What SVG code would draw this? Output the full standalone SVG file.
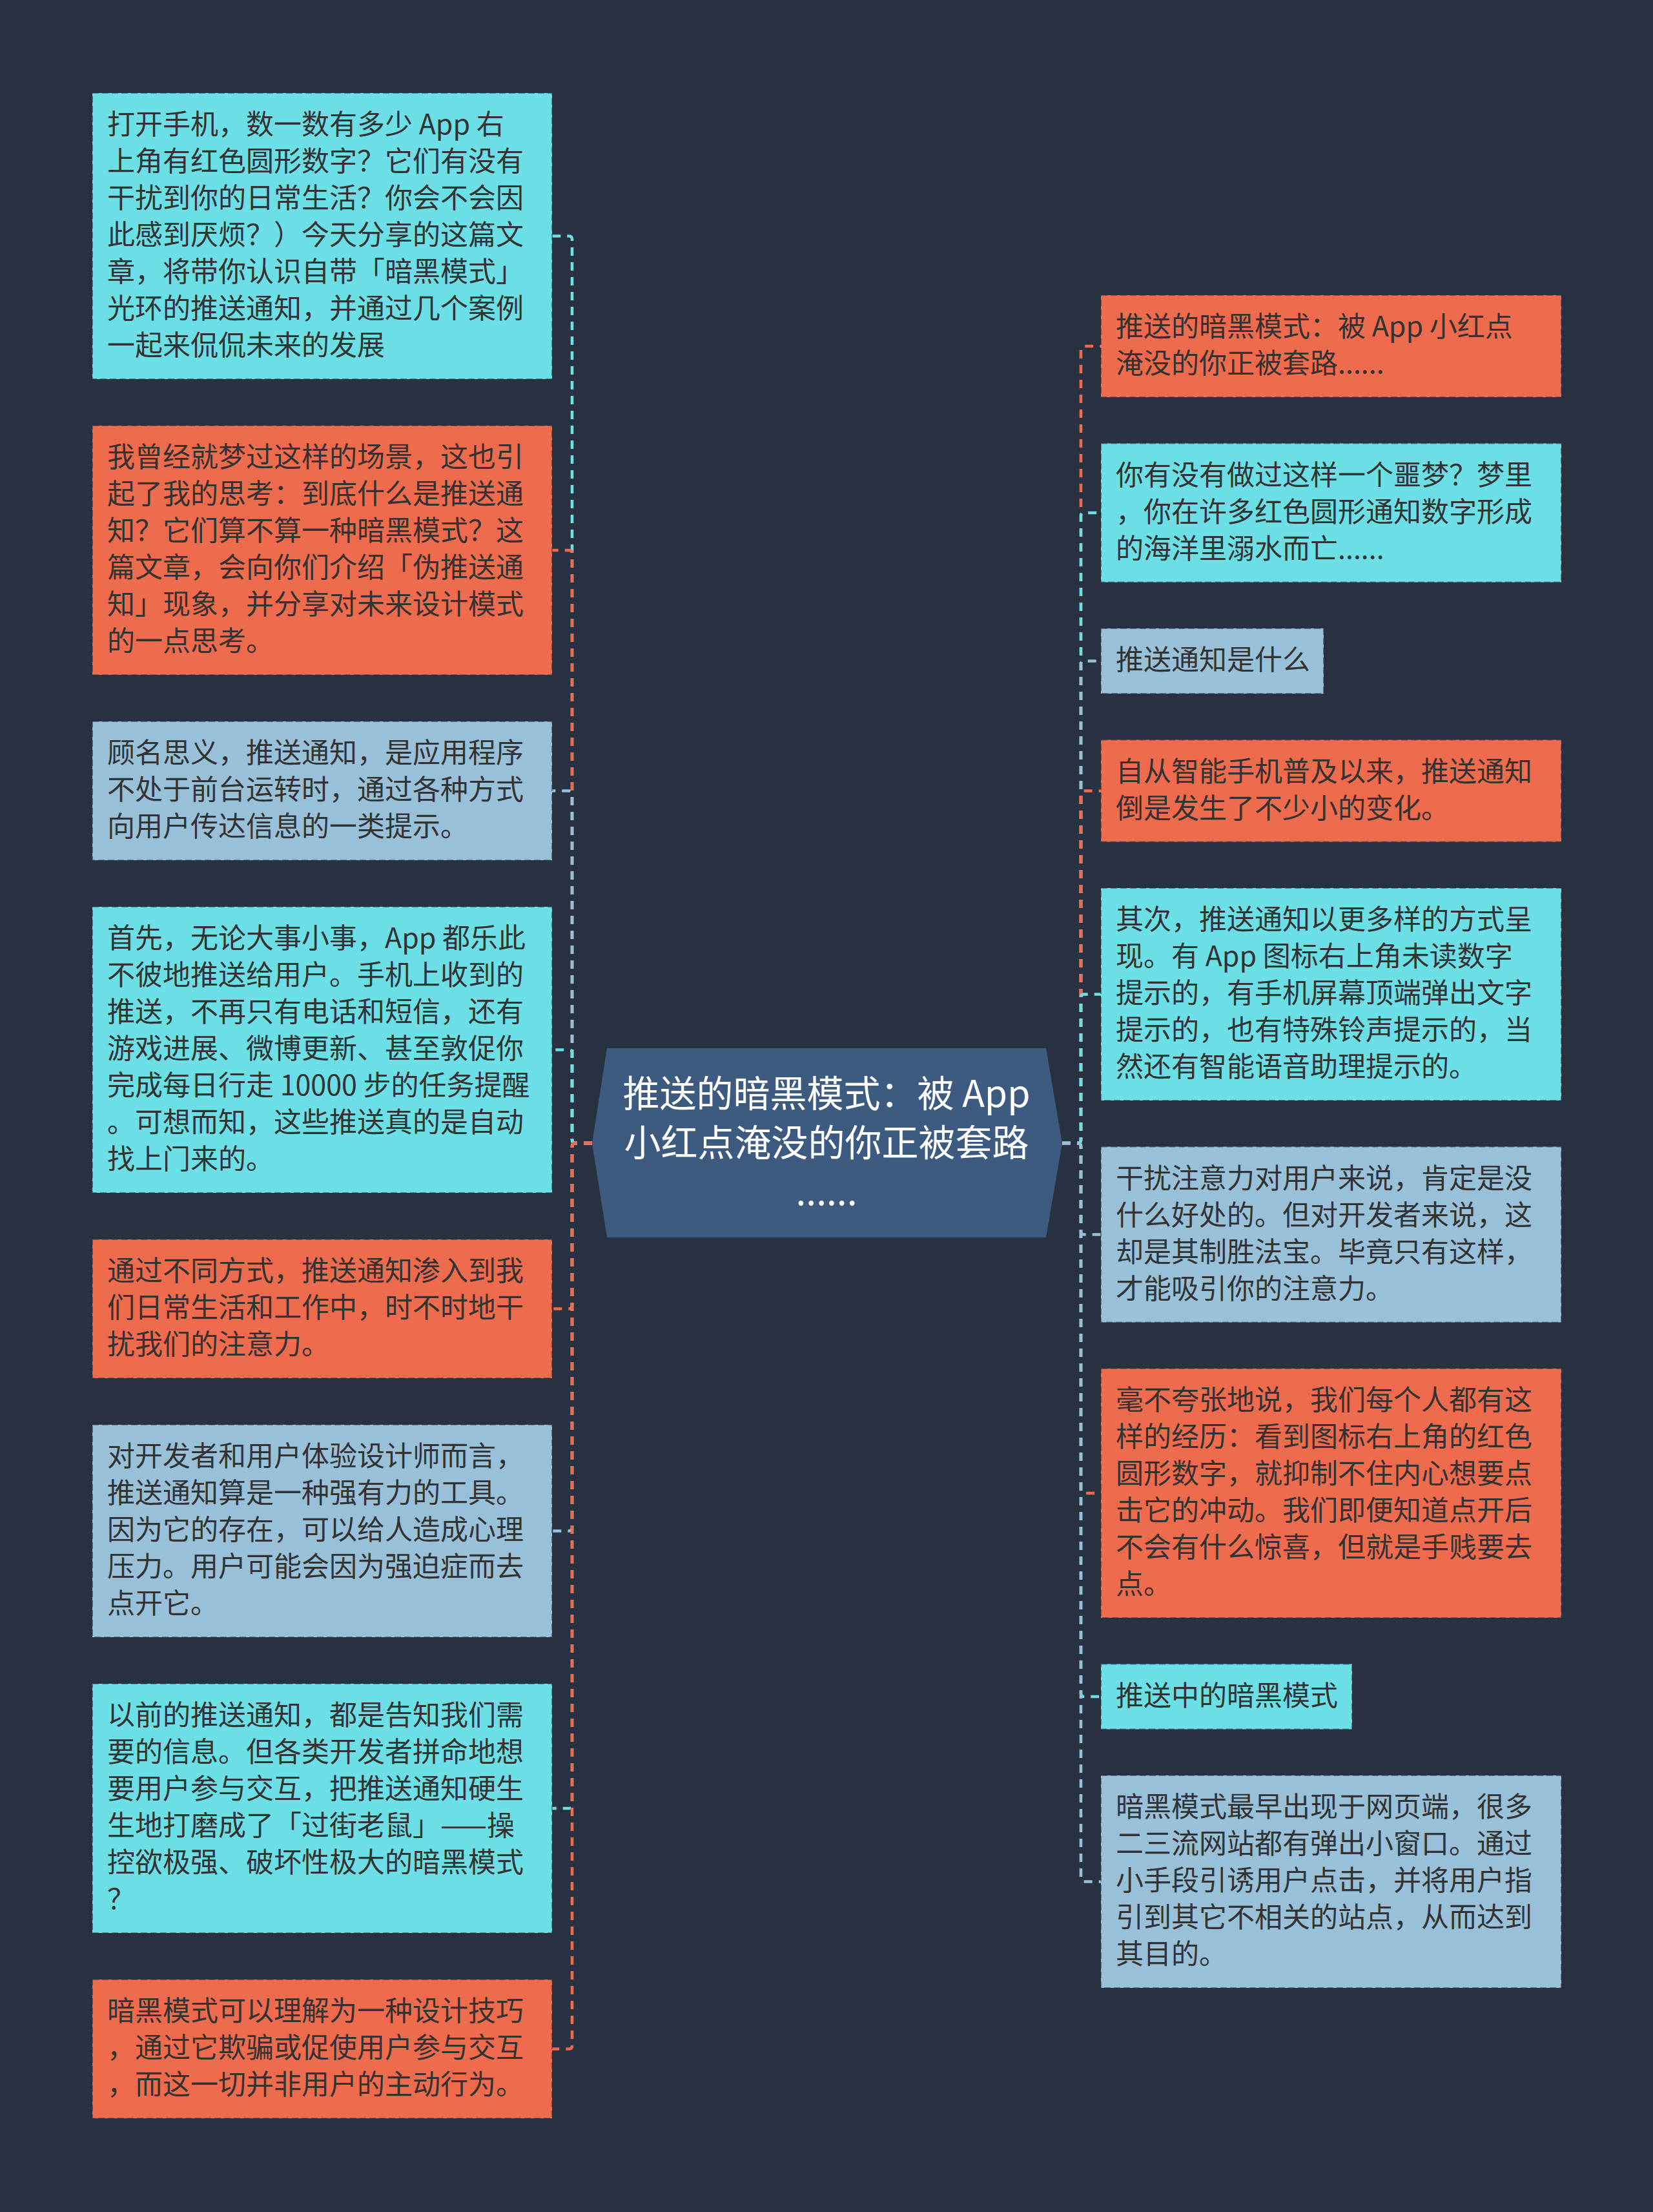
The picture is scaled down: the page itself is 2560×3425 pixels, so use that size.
<svg xmlns="http://www.w3.org/2000/svg" width="2560" height="3425" viewBox="0 0 2560 3425">
<style>
.t{font-family:"Noto Sans CJK SC","Noto Sans",sans-serif;font-size:43px;fill:#333333}
.ct{font-family:"Noto Sans CJK SC","Noto Sans",sans-serif;font-size:57px;fill:#ffffff;text-anchor:middle}
.box{stroke:#293241;stroke-opacity:0.5;stroke-width:2;stroke-dasharray:10 5}
.cy{fill:#6BDFE5}.or{fill:#EE6C4D}.lb{fill:#98C1D9}
.c{fill:none;stroke-width:4.5;stroke-dasharray:13 10}
.ccy{stroke:#6BDFE5}.cor{stroke:#EE6C4D}.clb{stroke:#98C1D9}
</style>
<rect width="2560" height="3425" fill="#293241"/>
<g id="connectors">
<path class="c ccy" d="M917 1770 H891 Q886 1770 886 1765 V370.5 Q886 365.5 881 365.5 H854"/>
<path class="c cor" d="M917 1770 H891 Q886 1770 886 1765 V857 Q886 852 881 852 H854"/>
<path class="c clb" d="M917 1770 H891 Q886 1770 886 1765 V1229.5 Q886 1224.5 881 1224.5 H854"/>
<path class="c ccy" d="M917 1770 H891 Q886 1770 886 1765 V1630.5 Q886 1625.5 881 1625.5 H854"/>
<path class="c cor" d="M917 1770 H891 Q886 1770 886 1775 V2021.5 Q886 2026.5 881 2026.5 H854"/>
<path class="c clb" d="M917 1770 H891 Q886 1770 886 1775 V2365.5 Q886 2370.5 881 2370.5 H854"/>
<path class="c ccy" d="M917 1770 H891 Q886 1770 886 1775 V2795 Q886 2800 881 2800 H854"/>
<path class="c cor" d="M917 1770 H891 Q886 1770 886 1775 V3167.5 Q886 3172.5 881 3172.5 H854"/>
<path class="c cor" d="M1645 1770 H1669 Q1674 1770 1674 1765 V541 Q1674 536 1679 536 H1705"/>
<path class="c ccy" d="M1645 1770 H1669 Q1674 1770 1674 1765 V799 Q1674 794 1679 794 H1705"/>
<path class="c clb" d="M1645 1770 H1669 Q1674 1770 1674 1765 V1028.5 Q1674 1023.5 1679 1023.5 H1705"/>
<path class="c cor" d="M1645 1770 H1669 Q1674 1770 1674 1765 V1229.5 Q1674 1224.5 1679 1224.5 H1705"/>
<path class="c ccy" d="M1645 1770 H1669 Q1674 1770 1674 1765 V1544.5 Q1674 1539.5 1679 1539.5 H1705"/>
<path class="c clb" d="M1645 1770 H1669 Q1674 1770 1674 1775 V1906.5 Q1674 1911.5 1679 1911.5 H1705"/>
<path class="c cor" d="M1645 1770 H1669 Q1674 1770 1674 1775 V2307 Q1674 2312 1679 2312 H1705"/>
<path class="c ccy" d="M1645 1770 H1669 Q1674 1770 1674 1775 V2622 Q1674 2627 1679 2627 H1705"/>
<path class="c clb" d="M1645 1770 H1669 Q1674 1770 1674 1775 V2908.5 Q1674 2913.5 1679 2913.5 H1705"/>
</g>
<g id="center">
<polygon points="940,1623 1620,1623 1645,1770 1620,1916 940,1916 917,1770" fill="#3D5A80"/>
<text class="ct"><tspan x="1280" y="1714">推送的暗黑模式：被 App</tspan><tspan x="1280" y="1790">小红点淹没的你正被套路</tspan><tspan x="1280" y="1866">......</tspan></text>
</g>
<g id="L1"><rect class="box cy" x="143" y="144" width="712" height="443"/>
<text class="t"><tspan x="166" y="208">打开手机，数一数有多少 App 右</tspan><tspan x="166" y="265">上角有红色圆形数字？它们有没有</tspan><tspan x="166" y="322">干扰到你的日常生活？你会不会因</tspan><tspan x="166" y="379">此感到厌烦？）今天分享的这篇文</tspan><tspan x="166" y="436">章，将带你认识自带「暗黑模式」</tspan><tspan x="166" y="493">光环的推送通知，并通过几个案例</tspan><tspan x="166" y="550">一起来侃侃未来的发展</tspan></text></g>
<g id="L2"><rect class="box or" x="143" y="659" width="712" height="386"/>
<text class="t"><tspan x="166" y="723">我曾经就梦过这样的场景，这也引</tspan><tspan x="166" y="780">起了我的思考：到底什么是推送通</tspan><tspan x="166" y="837">知？它们算不算一种暗黑模式？这</tspan><tspan x="166" y="894">篇文章，会向你们介绍「伪推送通</tspan><tspan x="166" y="951">知」现象，并分享对未来设计模式</tspan><tspan x="166" y="1008">的一点思考。</tspan></text></g>
<g id="L3"><rect class="box lb" x="143" y="1117" width="712" height="215"/>
<text class="t"><tspan x="166" y="1181">顾名思义，推送通知，是应用程序</tspan><tspan x="166" y="1238">不处于前台运转时，通过各种方式</tspan><tspan x="166" y="1295">向用户传达信息的一类提示。</tspan></text></g>
<g id="L4"><rect class="box cy" x="143" y="1404" width="712" height="443"/>
<text class="t"><tspan x="166" y="1468">首先，无论大事小事，App 都乐此</tspan><tspan x="166" y="1525">不彼地推送给用户。手机上收到的</tspan><tspan x="166" y="1582">推送，不再只有电话和短信，还有</tspan><tspan x="166" y="1639">游戏进展、微博更新、甚至敦促你</tspan><tspan x="166" y="1696">完成每日行走 10000 步的任务提醒</tspan><tspan x="166" y="1753">。可想而知，这些推送真的是自动</tspan><tspan x="166" y="1810">找上门来的。</tspan></text></g>
<g id="L5"><rect class="box or" x="143" y="1919" width="712" height="215"/>
<text class="t"><tspan x="166" y="1983">通过不同方式，推送通知渗入到我</tspan><tspan x="166" y="2040">们日常生活和工作中，时不时地干</tspan><tspan x="166" y="2097">扰我们的注意力。</tspan></text></g>
<g id="L6"><rect class="box lb" x="143" y="2206" width="712" height="329"/>
<text class="t"><tspan x="166" y="2270">对开发者和用户体验设计师而言，</tspan><tspan x="166" y="2327">推送通知算是一种强有力的工具。</tspan><tspan x="166" y="2384">因为它的存在，可以给人造成心理</tspan><tspan x="166" y="2441">压力。用户可能会因为强迫症而去</tspan><tspan x="166" y="2498">点开它。</tspan></text></g>
<g id="L7"><rect class="box cy" x="143" y="2607" width="712" height="386"/>
<text class="t"><tspan x="166" y="2671">以前的推送通知，都是告知我们需</tspan><tspan x="166" y="2728">要的信息。但各类开发者拼命地想</tspan><tspan x="166" y="2785">要用户参与交互，把推送通知硬生</tspan><tspan x="166" y="2842">生地打磨成了「过街老鼠」——操</tspan><tspan x="166" y="2899">控欲极强、破坏性极大的暗黑模式</tspan><tspan x="166" y="2956">？</tspan></text></g>
<g id="L8"><rect class="box or" x="143" y="3065" width="712" height="215"/>
<text class="t"><tspan x="166" y="3129">暗黑模式可以理解为一种设计技巧</tspan><tspan x="166" y="3186">，通过它欺骗或促使用户参与交互</tspan><tspan x="166" y="3243">，而这一切并非用户的主动行为。</tspan></text></g>
<g id="R1"><rect class="box or" x="1705" y="457" width="713" height="158"/>
<text class="t"><tspan x="1728" y="521">推送的暗黑模式：被 App 小红点</tspan><tspan x="1728" y="578">淹没的你正被套路......</tspan></text></g>
<g id="R2"><rect class="box cy" x="1705" y="686.5" width="713" height="215"/>
<text class="t"><tspan x="1728" y="750.5">你有没有做过这样一个噩梦？梦里</tspan><tspan x="1728" y="807.5">，你在许多红色圆形通知数字形成</tspan><tspan x="1728" y="864.5">的海洋里溺水而亡......</tspan></text></g>
<g id="R3"><rect class="box lb" x="1705" y="973" width="345" height="101"/>
<text class="t"><tspan x="1728" y="1037">推送通知是什么</tspan></text></g>
<g id="R4"><rect class="box or" x="1705" y="1145.5" width="713" height="158"/>
<text class="t"><tspan x="1728" y="1209.5">自从智能手机普及以来，推送通知</tspan><tspan x="1728" y="1266.5">倒是发生了不少小的变化。</tspan></text></g>
<g id="R5"><rect class="box cy" x="1705" y="1375" width="713" height="329"/>
<text class="t"><tspan x="1728" y="1439">其次，推送通知以更多样的方式呈</tspan><tspan x="1728" y="1496">现。有 App 图标右上角未读数字</tspan><tspan x="1728" y="1553">提示的，有手机屏幕顶端弹出文字</tspan><tspan x="1728" y="1610">提示的，也有特殊铃声提示的，当</tspan><tspan x="1728" y="1667">然还有智能语音助理提示的。</tspan></text></g>
<g id="R6"><rect class="box lb" x="1705" y="1775.5" width="713" height="272"/>
<text class="t"><tspan x="1728" y="1839.5">干扰注意力对用户来说，肯定是没</tspan><tspan x="1728" y="1896.5">什么好处的。但对开发者来说，这</tspan><tspan x="1728" y="1953.5">却是其制胜法宝。毕竟只有这样，</tspan><tspan x="1728" y="2010.5">才能吸引你的注意力。</tspan></text></g>
<g id="R7"><rect class="box or" x="1705" y="2119" width="713" height="386"/>
<text class="t"><tspan x="1728" y="2183">毫不夸张地说，我们每个人都有这</tspan><tspan x="1728" y="2240">样的经历：看到图标右上角的红色</tspan><tspan x="1728" y="2297">圆形数字，就抑制不住内心想要点</tspan><tspan x="1728" y="2354">击它的冲动。我们即便知道点开后</tspan><tspan x="1728" y="2411">不会有什么惊喜，但就是手贱要去</tspan><tspan x="1728" y="2468">点。</tspan></text></g>
<g id="R8"><rect class="box cy" x="1705" y="2576.5" width="389" height="101"/>
<text class="t"><tspan x="1728" y="2640.5">推送中的暗黑模式</tspan></text></g>
<g id="R9"><rect class="box lb" x="1705" y="2749" width="713" height="329"/>
<text class="t"><tspan x="1728" y="2813">暗黑模式最早出现于网页端，很多</tspan><tspan x="1728" y="2870">二三流网站都有弹出小窗口。通过</tspan><tspan x="1728" y="2927">小手段引诱用户点击，并将用户指</tspan><tspan x="1728" y="2984">引到其它不相关的站点，从而达到</tspan><tspan x="1728" y="3041">其目的。</tspan></text></g>
</svg>
